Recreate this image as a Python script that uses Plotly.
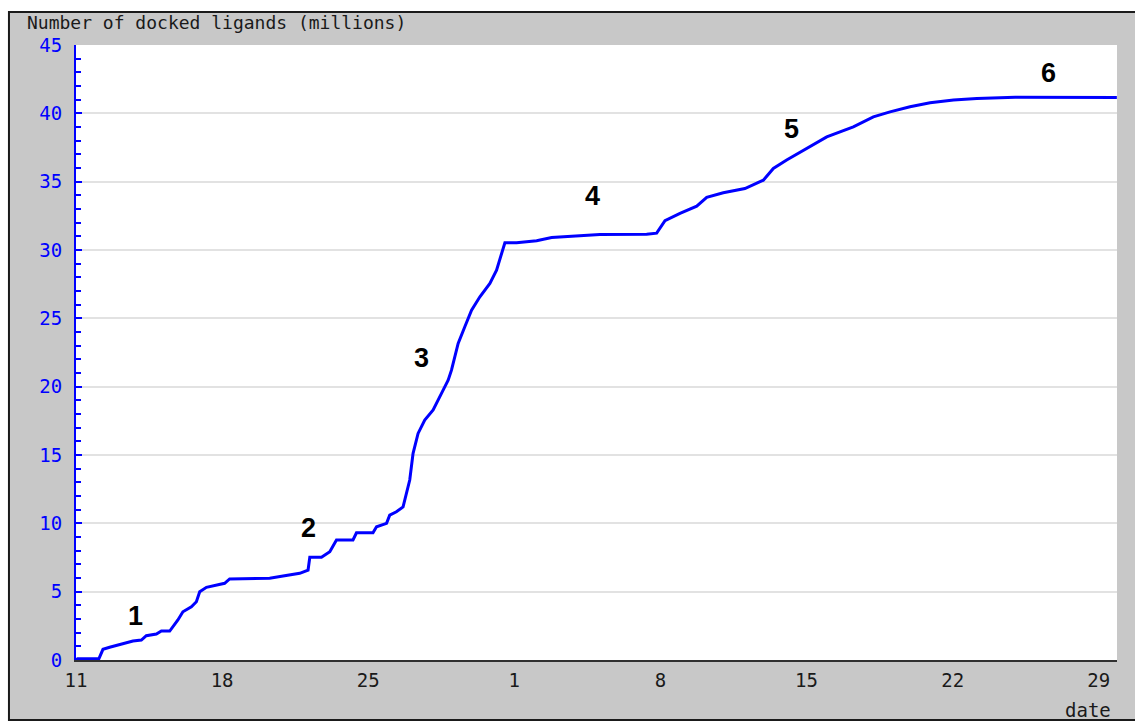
import plotly.graph_objects as go

# ---- data ----
dates = [
    "2005-07-11 00:00", "2005-07-11 02:00", "2005-07-12 02:24", "2005-07-12 07:00", "2005-07-12 14:40",
    "2005-07-13 06:00", "2005-07-13 17:30", "2005-07-14 03:10", "2005-07-14 08:50", "2005-07-14 20:25",
    "2005-07-15 02:10", "2005-07-15 11:45", "2005-07-15 15:30", "2005-07-15 21:10", "2005-07-16 02:55",
    "2005-07-16 12:40", "2005-07-16 18:25", "2005-07-16 22:15", "2005-07-17 06:00", "2005-07-17 17:30",
    "2005-07-18 02:55", "2005-07-18 08:40", "2005-07-20 06:40", "2005-07-20 22:05", "2005-07-21 17:15",
    "2005-07-22 02:50", "2005-07-22 04:50", "2005-07-22 18:15", "2005-07-23 03:50", "2005-07-23 11:30",
    "2005-07-24 06:30", "2005-07-24 10:30", "2005-07-25 05:30", "2005-07-25 09:35", "2005-07-25 21:05",
    "2005-07-26 00:45", "2005-07-26 08:25", "2005-07-26 16:05", "2005-07-26 19:55", "2005-07-26 23:45",
    "2005-07-27 03:35", "2005-07-27 09:20", "2005-07-27 17:00", "2005-07-28 02:40", "2005-07-28 12:15",
    "2005-07-28 19:55", "2005-07-28 23:45", "2005-07-29 07:25", "2005-07-29 15:05", "2005-07-29 22:50",
    "2005-07-30 08:25", "2005-07-30 19:55", "2005-07-31 03:35", "2005-07-31 09:20", "2005-07-31 13:10",
    "2005-08-01 02:35", "2005-08-02 01:40", "2005-08-02 18:55", "2005-08-04 03:25", "2005-08-05 02:25",
    "2005-08-07 08:10", "2005-08-07 19:40", "2005-08-08 05:15", "2005-08-08 22:30", "2005-08-09 17:45",
    "2005-08-10 05:15", "2005-08-11 00:15", "2005-08-12 01:10", "2005-08-12 22:20", "2005-08-13 09:50",
    "2005-08-14 01:10", "2005-08-15 00:15", "2005-08-15 23:15", "2005-08-17 05:50", "2005-08-18 04:50",
    "2005-08-19 00:00", "2005-08-19 23:00", "2005-08-20 22:05", "2005-08-22 01:00", "2005-08-23 03:50",
    "2005-08-25 00:00", "2005-08-29 20:50",
]
docked_millions = [
    0.0, 0.1, 0.1, 0.78, 0.93,
    1.22, 1.39, 1.46, 1.78, 1.9,
    2.12, 2.12, 2.44, 2.93, 3.53,
    3.9, 4.26, 5.0, 5.32, 5.49,
    5.61, 5.93, 5.98, 6.14, 6.34,
    6.58, 7.51, 7.51, 7.92, 8.78,
    8.78, 9.31, 9.31, 9.75, 10.0,
    10.6, 10.85, 11.2, 12.2, 13.17,
    15.12, 16.58, 17.56, 18.29, 19.51,
    20.48, 21.21, 23.17, 24.38, 25.6,
    26.58, 27.56, 28.53, 29.75, 30.53,
    30.53, 30.68, 30.92, 31.04, 31.14,
    31.16, 31.23, 32.14, 32.68, 33.21,
    33.85, 34.19, 34.5, 35.11, 35.97,
    36.58, 37.43, 38.28, 39.01, 39.74,
    40.11, 40.48, 40.77, 40.97, 41.09,
    41.18, 41.15,
]

phase_labels = ["1", "2", "3", "4", "5", "6"]
phase_x = ["2005-07-13 20:40", "2005-07-22 03:10", "2005-07-27 13:40",
           "2005-08-04 18:15", "2005-08-14 07:10", "2005-08-26 13:55"]
phase_y = [3.22, 9.66, 22.09, 33.94, 38.85, 42.94]

x_tickvals = ["2005-07-11", "2005-07-18", "2005-07-25", "2005-08-01",
              "2005-08-08", "2005-08-15", "2005-08-22", "2005-08-29"]
x_ticktext = ["11", "18", "25", "1", "8", "15", "22", "29"]
y_tickvals = [0, 5, 10, 15, 20, 25, 30, 35, 40, 45]

title_text = "Number of docked ligands (millions)"
x_title = "date"

# ---- figure ----
MONO = "DejaVu Sans Mono"
BLUE = "#0000ff"

fig = go.Figure()
fig.add_trace(go.Scatter(
    x=dates, y=docked_millions, mode="lines",
    line=dict(color=BLUE, width=3), hoverinfo="skip", showlegend=False,
))

for t, xx, yy in zip(phase_labels, phase_x, phase_y):
    fig.add_annotation(x=xx, y=yy, xref="x", yref="y", text="<b>%s</b>" % t,
                       showarrow=False, xanchor="center", yanchor="middle",
                       font=dict(family="Liberation Sans, Arial", size=27, color="#000000"))

fig.add_annotation(x=-0.049, y=1.0358, xref="paper", yref="paper", text=title_text,
                   showarrow=False, xanchor="left", yanchor="middle",
                   font=dict(family=MONO, size=18, color="#1a1a1a"))
fig.add_annotation(x=0.996, y=-0.0813, xref="paper", yref="paper", text=x_title,
                   showarrow=False, xanchor="right", yanchor="middle",
                   font=dict(family=MONO, size=19, color="#1a1a1a"))

fig.update_layout(
    width=1135, height=722,
    margin=dict(l=76, r=18, t=45, b=62),
    paper_bgcolor="#ffffff", plot_bgcolor="#ffffff",
    shapes=[
        dict(type="rect", xref="paper", yref="paper", x0=-0.0644, x1=1.06, y0=-0.0976, y1=1.0537,
             fillcolor="#c8c8c8", line=dict(color="#1a1a1a", width=2), layer="below"),
        dict(type="rect", xref="paper", yref="paper", x0=0, x1=1, y0=0, y1=1,
             fillcolor="#ffffff", line=dict(width=0), layer="below"),
    ],
    xaxis=dict(
        type="date", range=["2005-07-11 00:00", "2005-08-29 21:00"],
        tickvals=x_tickvals, ticktext=x_ticktext, ticks="",
        showgrid=False, zeroline=False, showline=True, linecolor="#303030", linewidth=2,
        tickfont=dict(family=MONO, size=19, color="#1a1a1a"), ticklabelstandoff=2,
    ),
    yaxis=dict(
        range=[0, 45], tickvals=y_tickvals, ticks="inside", ticklen=6, tickwidth=2, tickcolor=BLUE,
        minor=dict(dtick=1, ticks="inside", ticklen=5, tickwidth=2, tickcolor=BLUE, showgrid=False),
        showgrid=True, gridcolor="#e2e2e2", gridwidth=2, zeroline=False,
        showline=True, linecolor=BLUE, linewidth=2,
        tickfont=dict(family=MONO, size=19, color=BLUE), ticklabelstandoff=8,
    ),
)

fig.write_html("out.html", config={"displayModeBar": False},
               post_script="document.body.style.margin='0';document.body.style.padding='0';")
